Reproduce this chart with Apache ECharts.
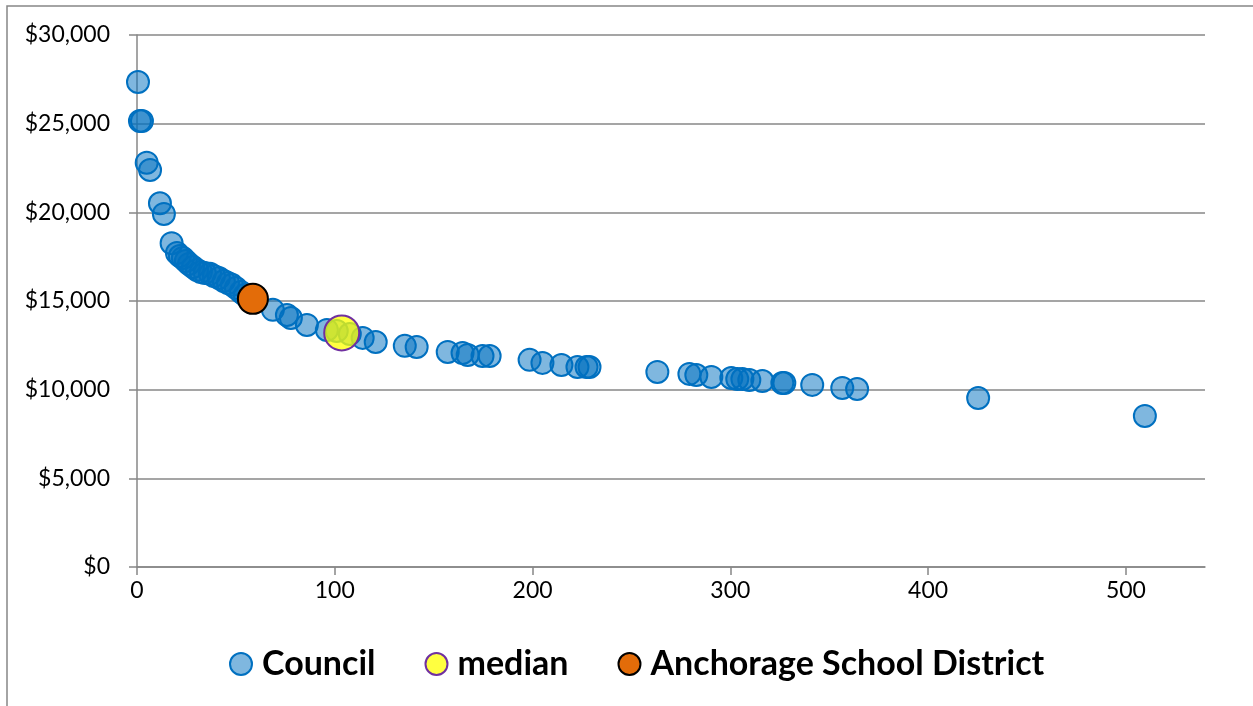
<!DOCTYPE html>
<html>
<head>
<meta charset="utf-8">
<script src="https://cdn.jsdelivr.net/npm/echarts@6/dist/echarts.min.js"></script>
<style>
html,body{margin:0;padding:0;background:#fff;}
#chart{width:1253px;height:706px;}
</style>
</head>
<body>
<div id="chart"></div>
<script>
// Council data (x = count, y = dollars)
const councilX = [0.5, 1.5, 2.5, 4.9, 6.6, 11.6, 13.6, 17.5, 20.2, 21.7, 23.2, 24.7, 26.3, 28.3, 30.3, 32.3, 34.3, 36.9, 38.9, 41.4, 43.9, 46, 48, 50, 52.5, 54.5, 68.7, 75.8, 77.8, 85.9, 96, 101, 107.6, 114.1, 120.7, 135.4, 141.4, 157.1, 164.6, 167.2, 174.7, 178.3, 198.5, 205, 214.6, 222.7, 227.3, 228.8, 263.1, 279.3, 282.8, 290.4, 300.5, 303.5, 306.1, 309.6, 316.2, 326.3, 327.3, 341.4, 356.6, 364.1, 425.3, 509.6];
const councilY = [27350, 25150, 25150, 22800, 22390, 20510, 19910, 18260, 17710, 17540, 17430, 17260, 17090, 16920, 16750, 16640, 16580, 16530, 16410, 16300, 16130, 16020, 15910, 15740, 15510, 15340, 14500, 14210, 14040, 13650, 13370, 13310, 13140, 12920, 12690, 12470, 12410, 12130, 12070, 11960, 11900, 11900, 11680, 11510, 11390, 11280, 11280, 11280, 11000, 10890, 10830, 10720, 10660, 10600, 10600, 10550, 10490, 10380, 10380, 10270, 10100, 10040, 9530, 8520];
const medianX = [103.5];
const medianY = [13200];
const asdX = [58.6];
const asdY = [15120];
const seriesNames = ['Council', 'median', 'Anchorage School District'];
const xTicks = [0, 100, 200, 300, 400, 500];
const yTicks = [0, 5000, 10000, 15000, 20000, 25000, 30000];

const zip = (xs, ys) => xs.map((x, i) => [x, ys[i]]);
const gridColor = '#878787';
const labelFont = 'Lato, "Liberation Sans", sans-serif';

const chart = echarts.init(document.getElementById('chart'), null, {renderer: 'canvas'});
chart.setOption({
  animation: false,
  backgroundColor: '#fff',
  graphic: [{
    type: 'rect', silent: true, z: 0,
    shape: {x: 7, y: 6, width: 1400, height: 900},
    style: {fill: 'none', stroke: '#868686', lineWidth: 1.5}
  }],
  grid: {left: 137, right: 48, top: 35, bottom: 139, containLabel: false},
  xAxis: {
    type: 'value', min: 0, max: 540, interval: 100,
    axisLine: {show: true, onZero: false, lineStyle: {color: gridColor, width: 1.5}},
    axisTick: {show: true, length: 8, inside: false, customValues: xTicks, lineStyle: {color: gridColor, width: 1.5}},
    axisLabel: {customValues: xTicks, margin: 12, color: '#000', fontSize: 23, fontFamily: labelFont},
    splitLine: {show: false}
  },
  yAxis: {
    type: 'value', min: 0, max: 30000, interval: 5000,
    axisLine: {show: true, lineStyle: {color: gridColor, width: 1.5}},
    axisTick: {show: true, length: 8, inside: false, customValues: yTicks, lineStyle: {color: gridColor, width: 1.5}},
    axisLabel: {customValues: yTicks, margin: 27, color: '#000', fontSize: 23, fontFamily: labelFont,
      formatter: v => '$' + v.toLocaleString('en-US')},
    splitLine: {show: true, lineStyle: {color: gridColor, width: 1.5}}
  },
  legend: {
    bottom: 20, left: 224,
    itemWidth: 22, itemHeight: 22, itemGap: 49,
    textStyle: {fontSize: 34, fontWeight: 'bold', color: '#000', fontFamily: labelFont, padding: [0, 0, 0, 5]},
    data: seriesNames
  },
  series: [
    {
      name: seriesNames[0], type: 'scatter', symbol: 'circle', symbolSize: 22,
      itemStyle: {color: 'rgba(0,112,192,0.5)', borderColor: '#0070C0', borderWidth: 2, opacity: 1},
      data: zip(councilX, councilY)
    },
    {
      name: seriesNames[1], type: 'scatter', symbol: 'circle', symbolSize: 35,
      itemStyle: {color: 'rgba(255,255,0,0.75)', borderColor: '#7030A0', borderWidth: 2, opacity: 1},
      data: zip(medianX, medianY)
    },
    {
      name: seriesNames[2], type: 'scatter', symbol: 'circle', symbolSize: 30,
      itemStyle: {color: '#E36C09', borderColor: '#000', borderWidth: 2, opacity: 1},
      data: zip(asdX, asdY)
    }
  ]
});
</script>
</body>
</html>
